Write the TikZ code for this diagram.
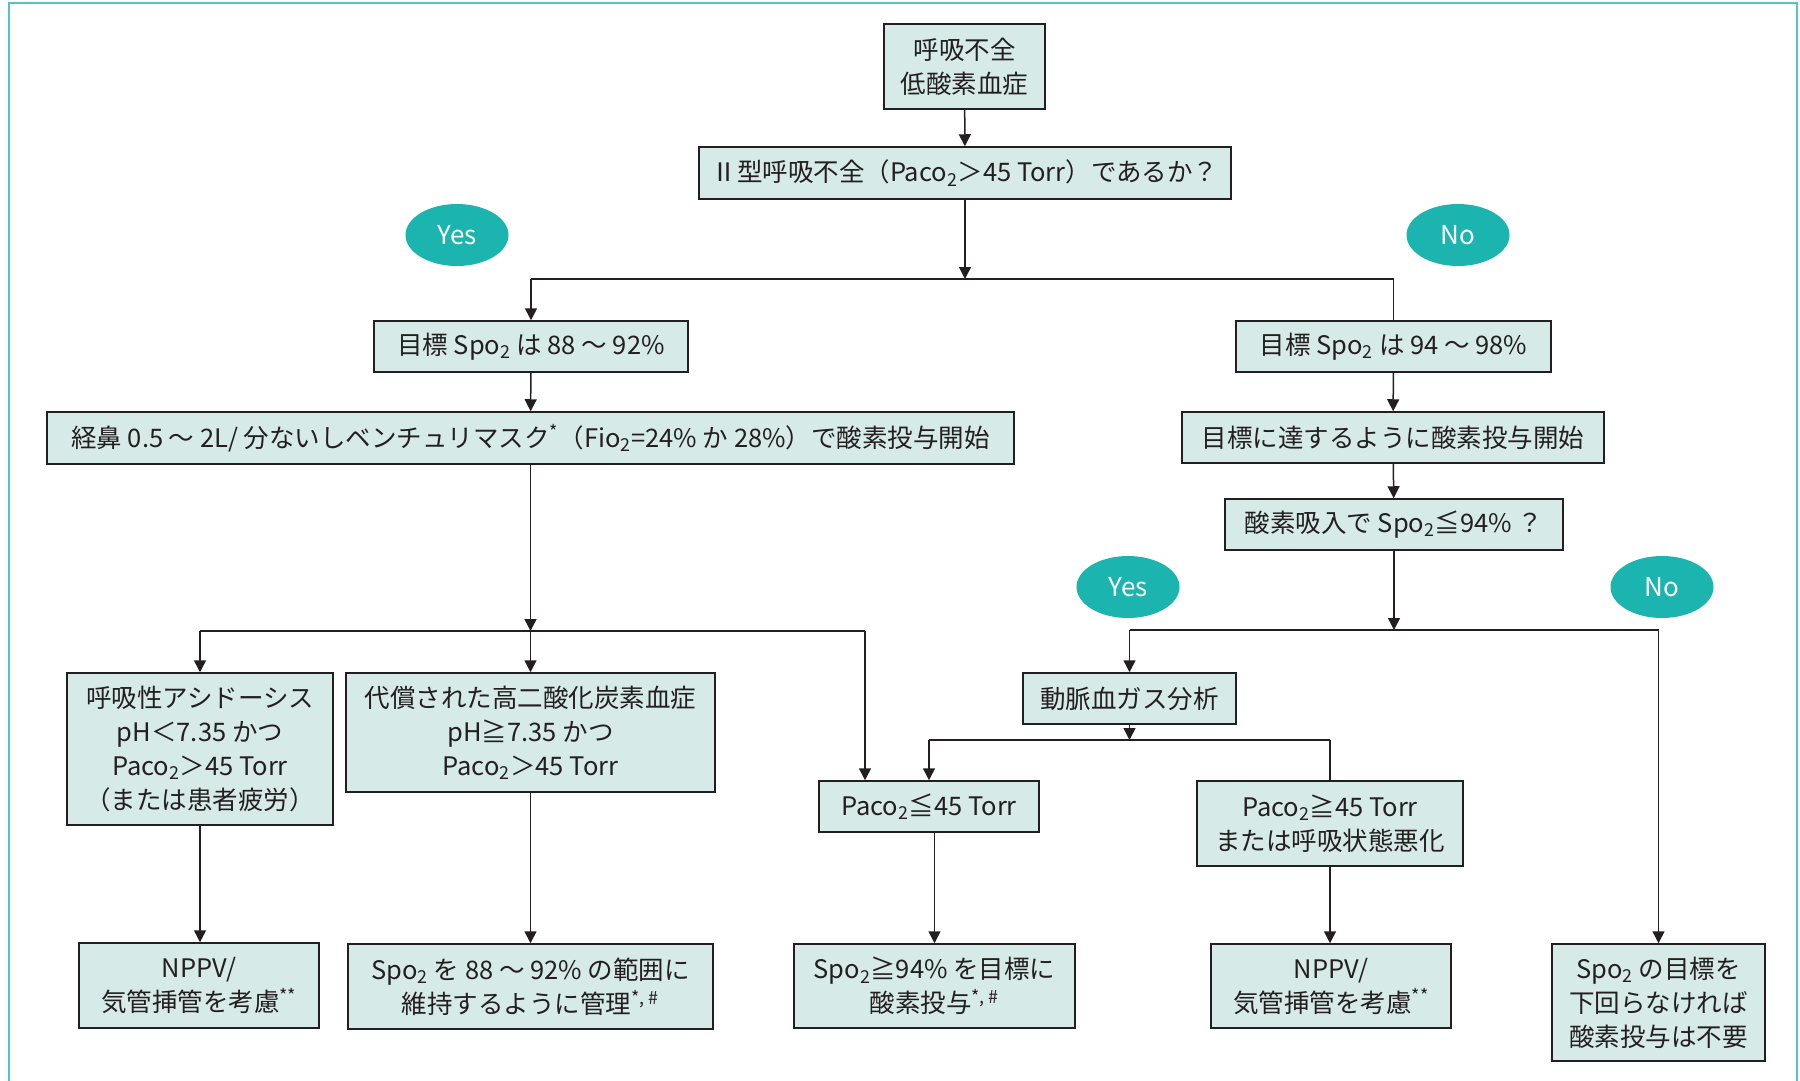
\documentclass[tikz,border=0pt]{standalone}
\usepackage{fontspec}
\setmainfont{Noto Sans CJK JP}
\usetikzlibrary{arrows.meta,shapes.geometric}
\definecolor{boxfill}{HTML}{D6EAE8}
\definecolor{yesteal}{HTML}{1BB4AE}
\definecolor{frameteal}{HTML}{55C3C0}
\definecolor{ink}{HTML}{231F20}
\newcommand{\sbt}{\textsubscript{2}}
\begin{document}
\begin{tikzpicture}[x=1pt,y=-1pt,
  box/.style={draw=ink, line width=1.5pt, fill=boxfill, inner sep=0pt, align=center, text=ink, font=\fontsize{25.5}{34}\selectfont},
  yn/.style={ellipse, fill=yesteal, minimum width=103pt, minimum height=62pt, inner sep=0pt, text=white, font=\fontsize{26}{30}\selectfont},
  conn/.style={draw=ink, line width=1.5pt},
  arr/.style={conn, -{Triangle[width=12pt,length=12pt]}}]
\useasboundingbox (0,0) rectangle (1800,1081);
\draw[frameteal, line width=2pt] (9,1081) -- (9,3) -- (1797,3) -- (1797,1081);

% nodes
\node[box, minimum width=161pt, minimum height=85pt] (n1) at (964.5,66.5) {呼吸不全\\低酸素血症};
\node[box, minimum width=532pt, minimum height=52pt] (n2) at (965,173) {Ⅱ型呼吸不全（Paco\sbt＞45 Torr）であるか？};
\node[yn] (yes1) at (457,235) {Yes};
\node[yn] (no1) at (1458,235) {No};
\node[box, minimum width=314pt, minimum height=51pt] (L1) at (531,346.5) {目標 Spo\sbt{} は 88 ～ 92\%};
\node[box, minimum width=315pt, minimum height=51pt] (R1) at (1393.5,346.5) {目標 Spo\sbt{} は 94 ～ 98\%};
\node[box, minimum width=967pt, minimum height=52pt] (L2) at (530.5,438) {経鼻 0.5 ～ 2L/ 分ないしベンチュリマスク\textsuperscript{*}（Fio\sbt=24\% か 28\%）で酸素投与開始};
\node[box, minimum width=422pt, minimum height=51pt] (R2) at (1393,437.5) {目標に達するように酸素投与開始};
\node[box, minimum width=338pt, minimum height=51pt] (R3) at (1394,524.5) {酸素吸入で Spo\sbt≦94\% ？};
\node[yn] (yes2) at (1128,587) {Yes};
\node[yn] (no2) at (1662,587) {No};
\node[box, minimum width=266pt, minimum height=152pt] (A1) at (200,749) {呼吸性アシドーシス\\pH＜7.35 かつ\\Paco\sbt＞45 Torr\\（または患者疲労）};
\node[box, minimum width=369pt, minimum height=119pt] (A2) at (530.5,732.5) {代償された高二酸化炭素血症\\pH≧7.35 かつ\\Paco\sbt＞45 Torr};
\node[box, minimum width=213pt, minimum height=51pt] (G) at (1129.5,698.5) {動脈血ガス分析};
\node[box, minimum width=220pt, minimum height=51pt] (P1) at (929,806.5) {Paco\sbt≦45 Torr};
\node[box, minimum width=266pt, minimum height=85pt] (P2) at (1330,823.5) {Paco\sbt≧45 Torr\\または呼吸状態悪化};
\node[box, minimum width=240pt, minimum height=85pt] (B1) at (199,985.5) {NPPV/\\気管挿管を考慮\textsuperscript{**}};
\node[box, minimum width=365pt, minimum height=85pt] (B2) at (530.5,986.5) {Spo\sbt{} を 88 ～ 92\% の範囲に\\維持するように管理\textsuperscript{*, \#}};
\node[box, minimum width=281pt, minimum height=84pt] (B3) at (934.5,986) {Spo\sbt≧94\% を目標に\\酸素投与\textsuperscript{*, \#}};
\node[box, minimum width=240pt, minimum height=84pt] (B4) at (1331,986) {NPPV/\\気管挿管を考慮\textsuperscript{**}};
\node[box, minimum width=213pt, minimum height=117pt] (B5) at (1658.5,1002.5) {Spo\sbt{} の目標を\\下回らなければ\\酸素投与は不要};

% junction coordinates
\coordinate (s1) at (965,279);
\coordinate (sL) at (530.5,631);
\coordinate (sLr) at (865,631);
\coordinate (sR) at (1394,630);
\coordinate (sG) at (1129.5,740);

% connectors
\draw[arr] (n1) -- (n2);
\draw[arr] (n2) -- (s1);
\draw[conn] (L1.north |- s1) -- (R1.north |- s1);
\draw[arr] (L1.north |- s1) -- (L1.north);
\draw[conn] (R1.north |- s1) -- (R1.north);
\draw[arr] (L1) -- (L2);
\draw[arr] (R1) -- (R2);
\draw[arr] (R2) -- (R3);

\draw[arr] (L2) -- (sL);
\draw[conn] (A1.north |- sL) -- (sLr);
\draw[arr] (A1.north |- sL) -- (A1.north);
\draw[arr] (A2.north |- sL) -- (A2.north);
\draw[arr] (sLr) -- (sLr |- P1.north);

\draw[arr] (R3) -- (sR);
\draw[conn] (G.north |- sR) -- (B5.north |- sR);
\draw[arr] (G.north |- sR) -- (G.north);
\draw[arr] (B5.north |- sR) -- (B5.north);

\draw[arr] (G) -- (sG);
\draw[conn] (P1.north |- sG) -- (P2.north |- sG);
\draw[arr] (P1.north |- sG) -- (P1.north);
\draw[conn] (P2.north |- sG) -- (P2.north);

\draw[arr] (A1.south) -- (A1.south |- B1.north);
\draw[arr] (A2.south) -- (A2.south |- B2.north);
\draw[arr] (B3.north |- P1.south) -- (B3.north);
\draw[arr] (P2.south) -- (P2.south |- B4.north);
\end{tikzpicture}
\end{document}
